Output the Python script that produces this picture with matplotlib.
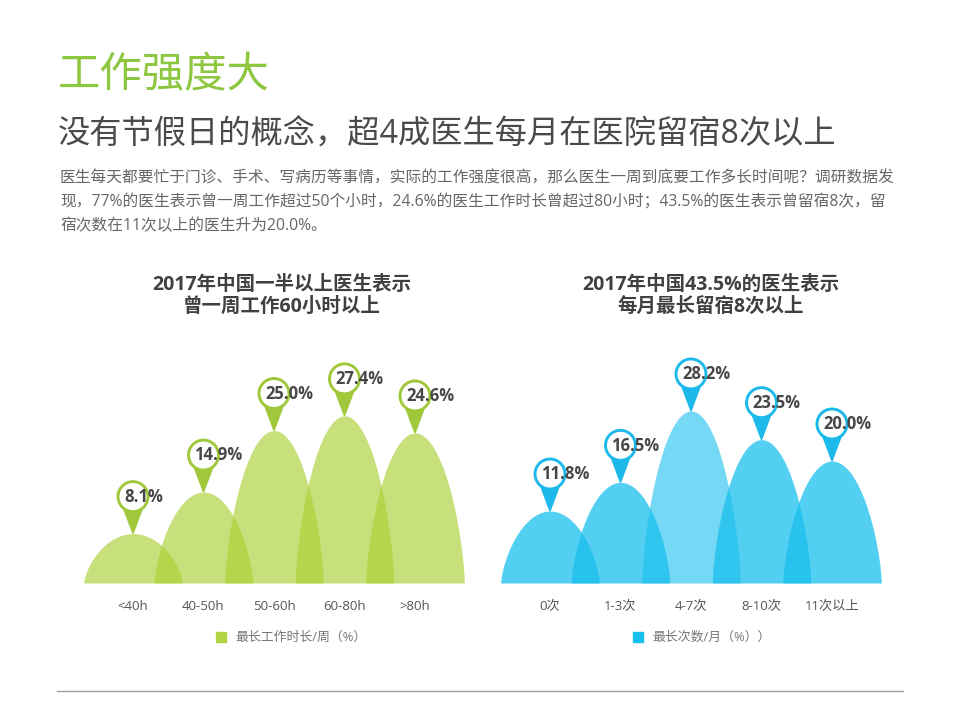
import matplotlib.pyplot as plt
import matplotlib.patches as mpatches
import matplotlib.transforms as mtransforms
import numpy as np

plt.rcParams['font.family'] = ['Open Sans', 'Noto Sans CJK SC', 'DejaVu Sans']

# data
hours_labels = ['<40h', '40-50h', '50-60h', '60-80h', '>80h']
hours_values = [8.1, 14.9, 25.0, 27.4, 24.6]
stay_labels = ['0次', '1-3次', '4-7次', '8-10次', '11次以上']
stay_values = [11.8, 16.5, 28.2, 23.5, 20.0]

title = '工作强度大'
subtitle = '没有节假日的概念，超4成医生每月在医院留宿8次以上'
body_lines = [
    '医生每天都要忙于门诊、手术、写病历等事情，实际的工作强度很高，那么医生一周到底要工作多长时间呢？调研数据发',
    '现，77%的医生表示曾一周工作超过50个小时，24.6%的医生工作时长曾超过80小时；43.5%的医生表示曾留宿8次，留',
    '宿次数在11次以上的医生升为20.0%。',
]

GREEN = '#abd034'
GREEN_PIN = '#9fc93a'
BLUE = '#19bfed'
BLUE_PIN = '#1db9ea'

W, H = 960, 720
fig = plt.figure(figsize=(9.6, 7.2), dpi=100)


def px(x, y):
    # pixel (top-left origin) -> figure fraction
    return x / W, 1 - y / H


def draw_panel(left, values, labels, color, alphas, pin_color, ttl, title_x, legend_text):
    unit = 70.5
    x0 = left - 0.75 * unit
    ax = fig.add_axes([x0 / W, (H - 583) / H, 5.5 * unit / W, 240 / H])
    ax.set_xlim(-0.75, 4.75)
    ax.set_ylim(0, 240 / 6.1)
    for s in ax.spines.values():
        s.set_visible(False)
    ax.set_yticks([])
    ax.set_xticks(range(len(labels)))
    ax.set_xticklabels(labels, fontsize=9.5, color='#555555')
    ax.tick_params(axis='x', length=0, pad=12)

    u = np.linspace(-1, 1, 300)
    for i, v in enumerate(values):
        x = i + 0.7 * u
        y = v * (1 - u ** 2) ** 0.68
        ax.fill_between(x, 0, y, color=color, alpha=alphas[i], lw=0)

    # pins (drawn in pixel units, anchored at hump peak)
    for i, v in enumerate(values):
        tr = fig.dpi_scale_trans + mtransforms.ScaledTranslation(i, v, ax.transData)
        tri = mpatches.Polygon([(0, 0), (-0.105, 0.28), (0.105, 0.28)],
                               closed=True, color=pin_color, transform=tr, zorder=5)
        circ = mpatches.Circle((0, 0.37), 0.15, facecolor='white',
                               edgecolor=pin_color, lw=2.1, transform=tr, zorder=6)
        ax.add_patch(tri)
        ax.add_patch(circ)
        ax.annotate(f'{v:.1f}%', (i, v), xytext=(-6.5, 26.5), textcoords='offset points',
                    ha='left', va='center', fontsize=12, fontweight='bold',
                    color='#474747', zorder=7, annotation_clip=False)

    fig.text(*px(title_x, 296), ttl, ha='center', va='center', fontsize=14,
             fontweight='bold', color='#404040', linespacing=1.15)
    # legend
    lx = left + 88
    fig.patches.append(mpatches.Rectangle(px(lx - 5, 642), 10 / W, 10 / H,
                                          color=color, alpha=alphas[0] + 0.25,
                                          transform=fig.transFigure))
    fig.text(*px(lx + 14, 637), legend_text, ha='left', va='center',
             fontsize=9.3, color='#777777')
    return ax


draw_panel(133, hours_values, hours_labels, GREEN, [0.65] * 5, GREEN_PIN,
           '2017年中国一半以上医生表示\n曾一周工作60小时以上', 282, '最长工作时长/周（%）')
draw_panel(550, stay_values, stay_labels, BLUE, [0.75, 0.75, 0.6, 0.75, 0.75], BLUE_PIN,
           '2017年中国43.5%的医生表示\n每月最长留宿8次以上', 711, '最长次数/月（%））')

# header texts
fig.text(*px(58, 76), title, ha='left', va='center', fontsize=30.5, color='#8dc63f')
fig.text(*px(58, 135), subtitle, ha='left', va='center', fontsize=23.2, color='#4a4a4a')
for k, line in enumerate(body_lines):
    fig.text(*px(60, 179 + k * 23.5), line, ha='left', va='center',
             fontsize=11.3, color='#666666')

# bottom rule
fig.add_artist(plt.Line2D([57 / W, 903 / W], [1 - 691 / H] * 2,
                          color='#9a9a9a', lw=1, transform=fig.transFigure))

fig.savefig('out.png', dpi=100)
